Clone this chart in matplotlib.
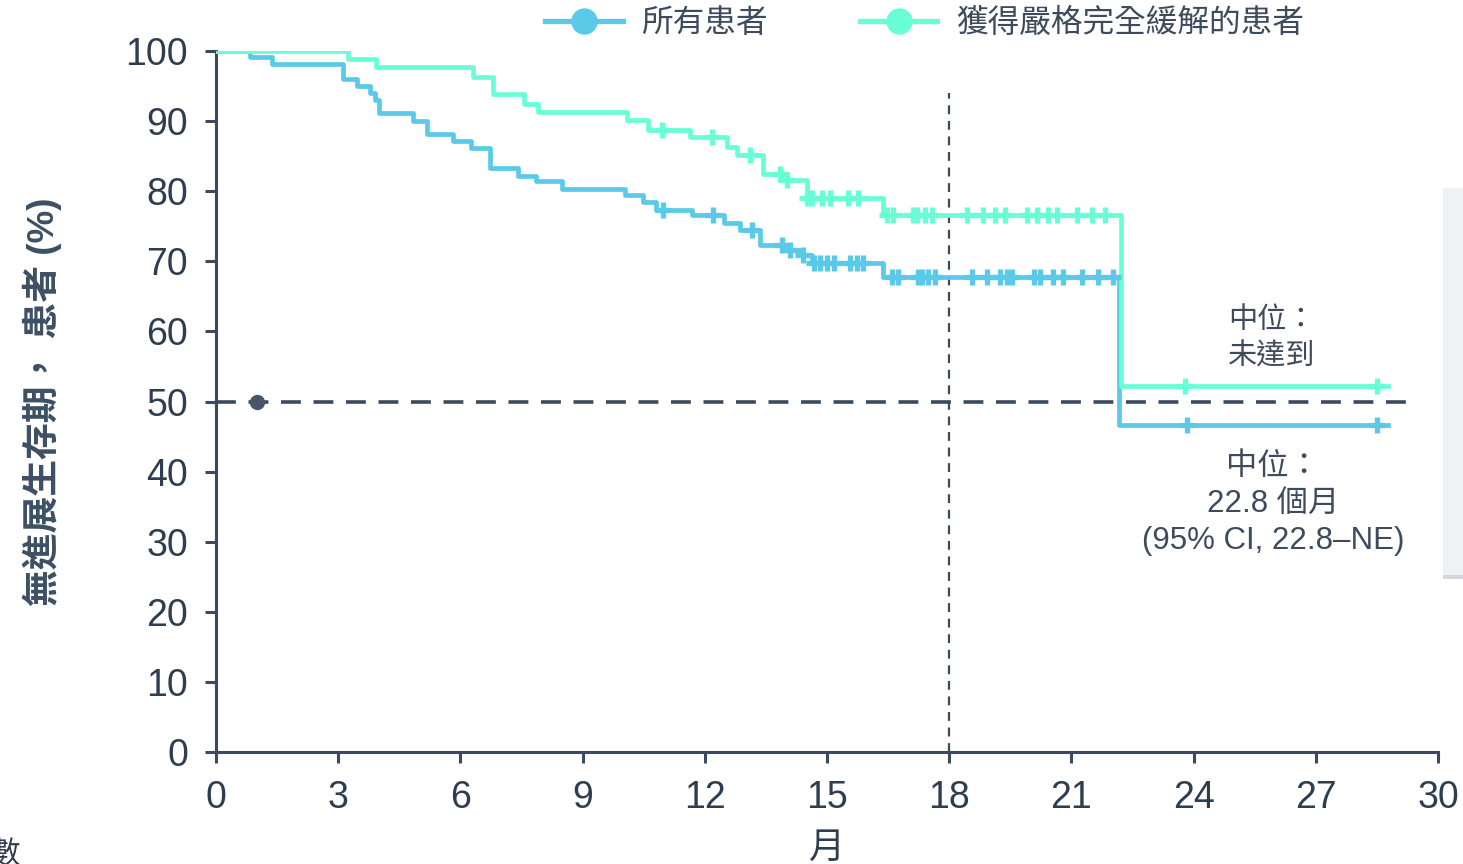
import numpy as np
import matplotlib
matplotlib.use("Agg")
import matplotlib.pyplot as plt
from matplotlib.patches import Rectangle

plt.rcParams['font.family'] = ['Liberation Sans', 'Noto Sans CJK TC']

# event times (months) and survival (%) after each step
all_t = [0, 0.83, 1.37, 3.12, 3.45, 3.78, 3.9, 4.0, 4.83, 5.17, 5.82, 6.25, 6.73, 7.42,
         7.86, 8.49, 10.04, 10.49, 10.8, 11.68, 12.46, 12.87, 13.36, 14.09, 14.34, 14.63,
         16.38, 22.17]
all_s = [100, 99.2, 98.1, 96.0, 95.0, 94.0, 93.0, 91.2, 90.0, 88.2, 87.2, 86.2, 83.3, 82.2,
         81.4, 80.3, 79.5, 78.4, 77.3, 76.6, 75.4, 74.5, 72.3, 71.6, 70.9, 69.8,
         67.8, 46.6]
cr_t = [0, 3.24, 3.92, 6.3, 6.81, 7.55, 7.91, 10.08, 10.61, 11.64, 12.54, 12.78, 13.44,
        14.01, 14.5, 16.38, 22.22]
cr_s = [100, 98.8, 97.7, 96.3, 93.8, 92.5, 91.3, 90.2, 88.8, 87.8, 86.3, 85.2, 82.5,
        81.6, 79.0, 76.6, 52.2]
end_t = 28.77

all_cens = [10.98, 12.2, 13.15, 13.89, 14.09, 14.42, 14.67, 14.83, 15.0, 15.16, 15.57, 15.73,
            15.89, 16.59, 16.75, 17.24, 17.33, 17.49, 17.65, 18.55, 18.92, 19.25, 19.41,
            19.54, 20.07, 20.23, 20.56, 20.8, 21.25, 21.66, 22.03, 23.84, 28.5]
cr_cens = [10.94, 12.17, 13.11, 13.85, 14.01, 14.5, 14.63, 14.87, 15.08, 15.52, 15.77,
           16.47, 16.63, 17.12, 17.2, 17.41, 17.57, 18.43, 18.84, 19.13, 19.37, 19.9,
           20.15, 20.43, 20.64, 21.13, 21.5, 21.83, 23.8, 28.5]

labels = ['所有患者', '獲得嚴格完全緩解的患者']
xticks = list(range(0, 31, 3))
yticks = list(range(0, 101, 10))

blue = '#5BCAE8'
green = '#69FFD6'
dark = '#3B4A5C'

fig = plt.figure(figsize=(14.63, 8.64), dpi=100)
ax = fig.add_axes([216/1463, 112/864, 1222/1463, 701/864])


def km(ax, t, s, cens, color, label):
    tt = list(t) + [end_t]
    ss = list(s) + [s[-1]]
    ax.step(tt, ss, where='post', color=color, lw=3.4, zorder=3)
    idx = np.searchsorted(t, cens, side='right') - 1
    cy = np.array(s)[idx]
    ax.plot(cens, cy, ls='none', marker='+', ms=12, mew=3.8, color=color, zorder=4)
    ax.plot([], [], color=color, lw=3.8, marker='o', ms=18, label=label)


km(ax, all_t, all_s, all_cens, blue, labels[0])
km(ax, cr_t, cr_s, cr_cens, green, labels[1])

ax.plot([0, 29.27], [50, 50], color=dark, lw=2.6, dashes=(5.5, 3.5), zorder=2)
ax.plot([18, 18], [0, 94], color=dark, lw=1.6, dashes=(4, 3), zorder=2)
ax.plot([1], [50], marker='o', ms=10, color='#4A5568', zorder=5)

ax.set_xlim(0, 30)
ax.set_ylim(0, 100)
ax.set_xticks(xticks)
ax.set_yticks(yticks)
for sp in ['top', 'right']:
    ax.spines[sp].set_visible(False)
for sp in ['left', 'bottom']:
    ax.spines[sp].set_color(dark)
    ax.spines[sp].set_linewidth(2.2)
ax.tick_params(colors=dark, labelcolor='#2E3D4F', labelsize=27, length=8, width=2.2, pad=12)
ax.set_xlabel('月', fontsize=26, color='#2E3D4F', labelpad=11)
ax.set_ylabel('無進展生存期， 患者 (%)', fontsize=26.5, color='#3D4F63', labelpad=46,
              fontweight='bold')

ax.text(24.85, 59.0, '中位：\n未達到', fontsize=21, color='#3D4B5C', ha='left', va='center',
        linespacing=1.3, family=['Noto Sans CJK TC'])
ax.text(25.95, 35.4, '中位：\n22.8 個月\n(95% CI, 22.8–NE)', fontsize=22.5, color='#3D4B5C',
        ha='center', va='center', linespacing=1.3)

fig.legend(loc='center', bbox_to_anchor=(0.632, 0.972), ncol=2, frameon=False,
           fontsize=22.8, labelcolor='#3D4B5C', handlelength=2.45, columnspacing=2.9,
           handletextpad=0.6)

fig.patches.append(Rectangle((1443/1463, 1 - 575/864), 0.02, 387/864,
                             transform=fig.transFigure, facecolor='#F0F1F5',
                             edgecolor='none', zorder=0))
fig.patches.append(Rectangle((1443/1463, 1 - 579/864), 0.02, 4/864,
                             transform=fig.transFigure, facecolor='#D3D6DB',
                             edgecolor='none', zorder=0))
fig.text(-0.007, 0.028, '數', fontsize=22, color='#2E3D4F', va='top',
         family=['Noto Sans CJK TC'])

fig.savefig('out.png', dpi=100)
